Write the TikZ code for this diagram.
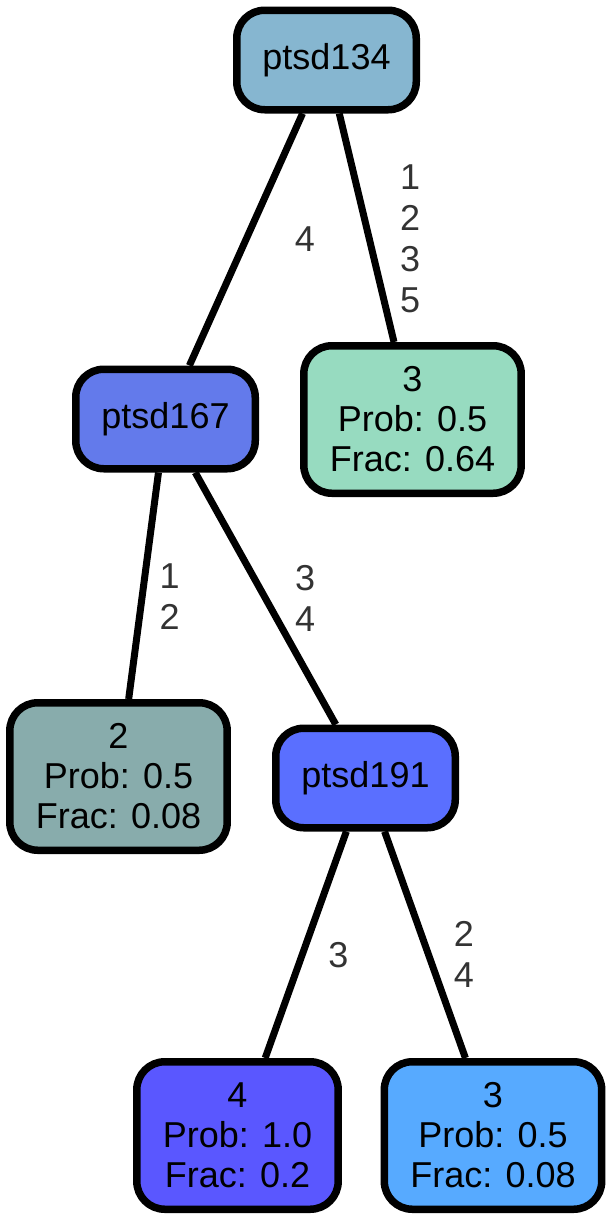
\documentclass[tikz,border=0pt]{standalone}
\usepackage{fontspec}
\setmainfont{Liberation Sans}
\usepackage{tikz}
\usetikzlibrary{positioning}

\definecolor{c134}{HTML}{86B6D0}
\definecolor{c167}{HTML}{637AEB}
\definecolor{c191}{HTML}{5A6FFF}
\definecolor{cleafa}{HTML}{97DBC0}
\definecolor{cleafb}{HTML}{88ACAC}
\definecolor{cleafc}{HTML}{5A57FF}
\definecolor{cleafd}{HTML}{57AAFF}

\begin{document}
\begin{tikzpicture}[
    x=1pt, y=-1pt,
    split/.style={rectangle, draw, line width=7.5pt, rounded corners=28pt, minimum width=179.5pt, minimum height=99.5pt, font=\fontsize{36}{40}\selectfont},
    leaf/.style={rectangle, draw, line width=7.5pt, rounded corners=28pt, align=center, inner xsep=26pt, minimum height=147.5pt, font=\fontsize{36}{40}\selectfont},
    line/.style={draw, line width=7pt},
    cut/.style={midway, text=black!80, align=center, font=\fontsize{36}{41}\selectfont}
]
\useasboundingbox (0,0) rectangle (611,1221);

% Split nodes
\node [split, fill=c134] (ptsd134) at (326.5,60) {ptsd134};
\node [split, fill=c167] (ptsd167) at (165.5,419) {ptsd167};
\node [split, fill=c191] (ptsd191) at (365.5,778) {ptsd191};

% Leaves
\node [leaf, fill=cleafa] (leaf064) at (412.5,419.5) {3\\Prob: 0.5\\Frac: 0.64};
\node [leaf, fill=cleafb] (leaf2) at (118.5,776.5) {2\\Prob: 0.5\\Frac: 0.08};
\node [leaf, fill=cleafc] (leaf4) at (237.5,1135.5) {4\\Prob: 1.0\\Frac: 0.2};
\node [leaf, fill=cleafd] (leaf3) at (493,1135.5) {3\\Prob: 0.5\\Frac: 0.08};

% Connections
\path [line] (ptsd134) -- node[cut, xshift=59pt] {4} (ptsd167);
\path [line] (ptsd134) -- node[cut, xshift=43.5pt, yshift=-11pt] {1\\2\\3\\5} (leaf064);
\path [line] (ptsd167) -- node[cut, xshift=26pt, yshift=-11pt] {1\\2} (leaf2);
\path [line] (ptsd167) -- node[cut, xshift=39.5pt] {3\\4} (ptsd191);
\path [line] (ptsd191) -- node[cut, xshift=32.5pt, yshift=-10pt] {3} (leaf4);
\path [line] (ptsd191) -- node[cut, xshift=39pt, yshift=-10pt] {2\\4} (leaf3);

\end{tikzpicture}
\end{document}
